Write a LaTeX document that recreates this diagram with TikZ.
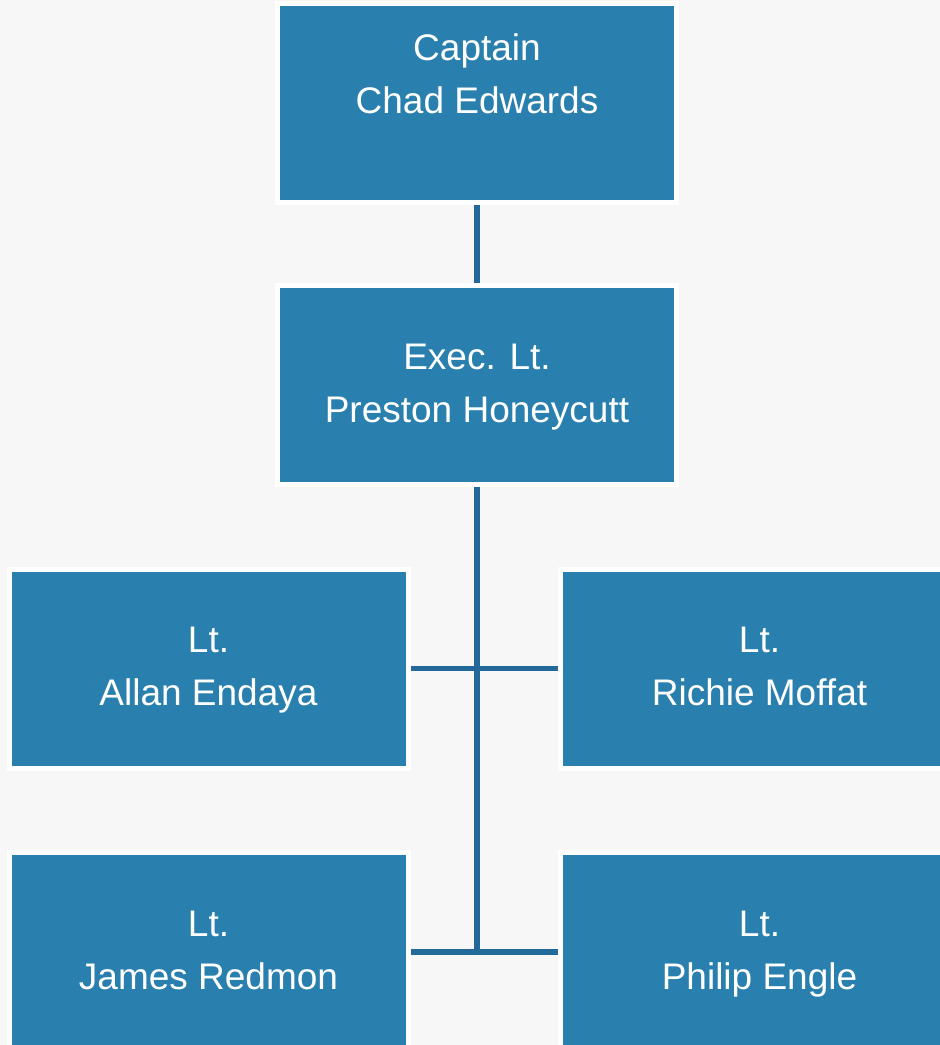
\documentclass[tikz,border=0pt]{standalone}
\usepackage{fontspec}
\setmainfont{Liberation Sans}
\usepackage{tikz}

\definecolor{boxblue}{HTML}{2980AE}
\definecolor{linkblue}{HTML}{22699A}
\definecolor{bggray}{HTML}{F7F7F7}

\begin{document}
\begin{tikzpicture}[x=1pt,y=-1pt,
	rank/.style={rectangle,fill=boxblue,draw=white,line width=5pt,minimum width=399pt,minimum height=199pt,align=center,text=white,font=\fontsize{37}{53}\selectfont}]
	\fill[bggray] (0,0) rectangle (940,1045);
	\useasboundingbox (0,0) rectangle (940,1045);
	\clip (0,0) rectangle (940,1045);
	
	\node[rank] (captain) at (477,103) {\strut Captain\\\strut Chad Edwards\\\strut};
	\node[rank] (exec) at (477,385) {\strut Exec. Lt.\\\strut Preston Honeycutt};
	\node[rank] (allan) at (208.5,668.5) {\strut Lt.\\\strut Allan Endaya};
	\node[rank] (richie) at (759.5,668.5) {\strut Lt.\\\strut Richie Moffat};
	\node[rank] (james) at (208.5,952) {\strut Lt.\\\strut James Redmon};
	\node[rank] (philip) at (759.5,952) {\strut Lt.\\\strut Philip Engle};
	\coordinate (joint) at (exec.south |- james.east);
	
	\path[draw=linkblue,line width=5.5pt]
	(captain) edge (exec)
	(allan) edge (richie)
	(james) edge (philip)
	(exec) edge (joint);
	
\end{tikzpicture}
\end{document}
